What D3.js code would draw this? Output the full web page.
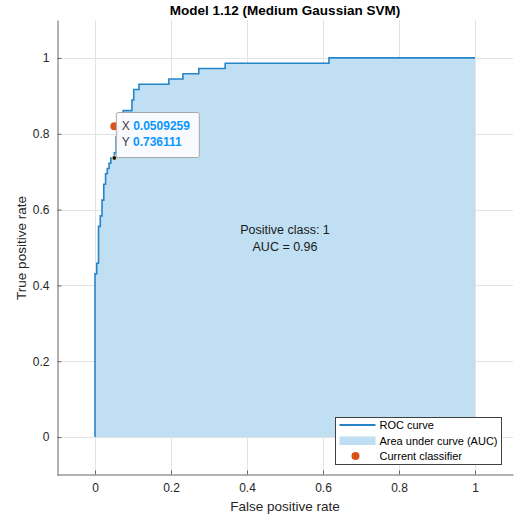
<!DOCTYPE html>
<html>
<head>
<meta charset="utf-8">
<script src="https://cdn.jsdelivr.net/npm/d3@7"></script>
<style>
  html, body { margin: 0; padding: 0; background: #ffffff; }
  svg { display: block; font-family: "Liberation Sans", Arial, sans-serif; }
</style>
</head>
<body>
<svg id="chart" width="514" height="519"></svg>
<script>
// ROC curve vertices (top of each vertical step)
const rocFPR = [0, 0, 0.0046, 0.0093, 0.0139, 0.0185, 0.0231, 0.0278, 0.0324, 0.0370, 0.0417,
                0.0509, 0.0556, 0.0602, 0.0741, 0.0972, 0.1019, 0.1157, 0.1944, 0.2315,
                0.2731, 0.3426, 0.6157, 1];
const rocTPR = [0, 0.4306, 0.4583, 0.5556, 0.5833, 0.6250, 0.6667, 0.6944, 0.7083, 0.7222, 0.7361,
                0.7500, 0.7917, 0.8194, 0.8611, 0.8889, 0.9167, 0.9306, 0.9444, 0.9583,
                0.9722, 0.9861, 1, 1];
const currentClassifier = [0.0509259, 0.82];
const dataTip = [0.0509259, 0.736111];
const dataTipLabels = ["0.0509259", "0.736111"];
const xTicks = [0, 0.2, 0.4, 0.6, 0.8, 1];
const xTickLabels = ["0", "0.2", "0.4", "0.6", "0.8", "1"];
const yTicks = [0, 0.2, 0.4, 0.6, 0.8, 1];
const yTickLabels = ["0", "0.2", "0.4", "0.6", "0.8", "1"];
const titleText = "Model 1.12 (Medium Gaussian SVM)";
const annotation = ["Positive class: 1", "AUC = 0.96"];
const legendItems = ["ROC curve", "Area under curve (AUC)", "Current classifier"];

const svg = d3.select("#chart");
const x = d3.scaleLinear().domain([-0.1, 1.1]).range([57, 513]);
const y = d3.scaleLinear().domain([-0.1, 1.1]).range([475, 20]);

const axisColor = "#262626";
const lineBlue = "#2585ca";
const fillBlue = "#c0dff2";
const orange = "#d95319";

// grid
const g = svg.append("g");
g.selectAll(".gx").data(xTicks).enter().append("line")
  .attr("x1", d => Math.round(x(d)) + 0.5).attr("x2", d => Math.round(x(d)) + 0.5)
  .attr("y1", y(1.1)).attr("y2", y(-0.1))
  .attr("stroke", "#e3e3e3").attr("stroke-width", 1);
g.selectAll(".gy").data(yTicks).enter().append("line")
  .attr("y1", d => Math.round(y(d)) + 0.5).attr("y2", d => Math.round(y(d)) + 0.5)
  .attr("x1", x(-0.1)).attr("x2", x(1.1))
  .attr("stroke", "#e3e3e3").attr("stroke-width", 1);

const pts = rocFPR.map((f, i) => [f, rocTPR[i]]);

// area
const area = d3.area()
  .x(d => x(d[0])).y0(y(0)).y1(d => y(d[1]))
  .curve(d3.curveStepAfter);
svg.append("path").datum(pts).attr("d", area).attr("fill", fillBlue);

// line
const line = d3.line().x(d => x(d[0])).y(d => y(d[1])).curve(d3.curveStepAfter);
svg.append("path").datum(pts).attr("d", line)
  .attr("fill", "none").attr("stroke", lineBlue).attr("stroke-width", 1.6);

// axes
const xAxis = d3.axisBottom(x).tickValues(xTicks)
  .tickFormat((d, i) => xTickLabels[i]).tickSizeInner(-4).tickSizeOuter(0).tickPadding(9);
const yAxis = d3.axisLeft(y).tickValues(yTicks)
  .tickFormat((d, i) => yTickLabels[i]).tickSizeInner(-4).tickSizeOuter(0).tickPadding(8);

const gx = svg.append("g").attr("transform", `translate(0,${y(-0.1) - 0.5})`).call(xAxis);
const gy = svg.append("g").attr("transform", `translate(${x(-0.1) + 0.5},0)`).call(yAxis);
[gx, gy].forEach(a => {
  a.select(".domain").attr("stroke", "#666");
  a.selectAll(".tick line").attr("stroke", "#666");
  a.selectAll("text").attr("fill", axisColor).attr("font-size", "12px")
    .attr("font-family", "'Liberation Sans', Arial, sans-serif");
});

// annotation
svg.append("text").attr("x", x(0.5)).attr("y", 234).attr("text-anchor", "middle")
  .attr("font-size", "12.5px").attr("fill", "#1a1a1a").text(annotation[0]);
svg.append("text").attr("x", x(0.5)).attr("y", 251).attr("text-anchor", "middle")
  .attr("font-size", "12.5px").attr("fill", "#1a1a1a").text(annotation[1]);

// current classifier
svg.append("circle").attr("cx", x(currentClassifier[0])).attr("cy", y(currentClassifier[1]))
  .attr("r", 4).attr("fill", orange);

// datatip box
const tipX = x(dataTip[0]) + 1.5, tipY = 112;
svg.append("rect").attr("x", tipX + 0.5).attr("y", tipY + 0.5).attr("width", 83).attr("height", 45)
  .attr("rx", 2).attr("fill", "#fbfbfe").attr("fill-opacity", 0.95)
  .attr("stroke", "#a8a8a8").attr("stroke-width", 1);
["X", "Y"].forEach((lab, i) => {
  const t = svg.append("text").attr("x", tipX + 6).attr("y", tipY + 18 + i * 15.5)
    .attr("font-size", "12px");
  t.append("tspan").attr("fill", "#404040").text(lab + " ");
  t.append("tspan").attr("fill", "#0a96ff").attr("font-weight", "bold").text(dataTipLabels[i]);
});
svg.append("circle").attr("cx", x(dataTip[0])).attr("cy", y(dataTip[1]))
  .attr("r", 2.3).attr("fill", "#111").attr("stroke", "#e8e8c0").attr("stroke-width", 0.8);

// title
svg.append("text").attr("x", 285).attr("y", 14.5).attr("text-anchor", "middle")
  .attr("font-size", "13.5px").attr("font-weight", "bold").attr("fill", "#000").text(titleText);

// axis labels
svg.append("text").attr("x", 285).attr("y", 511).attr("text-anchor", "middle")
  .attr("font-size", "13.5px").attr("fill", axisColor).text("False positive rate");
svg.append("text").attr("transform", "translate(26,248) rotate(-90)").attr("text-anchor", "middle")
  .attr("font-size", "13.5px").attr("fill", axisColor).text("True positive rate");

// legend
const lg = svg.append("g").attr("transform", "translate(335.5,417.5)");
lg.append("rect").attr("width", 166).attr("height", 47).attr("fill", "#fff")
  .attr("stroke", "#404040").attr("stroke-width", 1);
lg.append("line").attr("x1", 4).attr("x2", 40).attr("y1", 7.5).attr("y2", 7.5)
  .attr("stroke", lineBlue).attr("stroke-width", 2);
lg.append("rect").attr("x", 4).attr("y", 19).attr("width", 36).attr("height", 8.5).attr("fill", fillBlue);
lg.append("circle").attr("cx", 20).attr("cy", 38.5).attr("r", 4).attr("fill", orange);
legendItems.forEach((t, i) => {
  lg.append("text").attr("x", 44).attr("y", 11.5 + i * 15.5).attr("font-size", "11px")
    .attr("fill", "#000").text(t);
});
</script>
</body>
</html>
